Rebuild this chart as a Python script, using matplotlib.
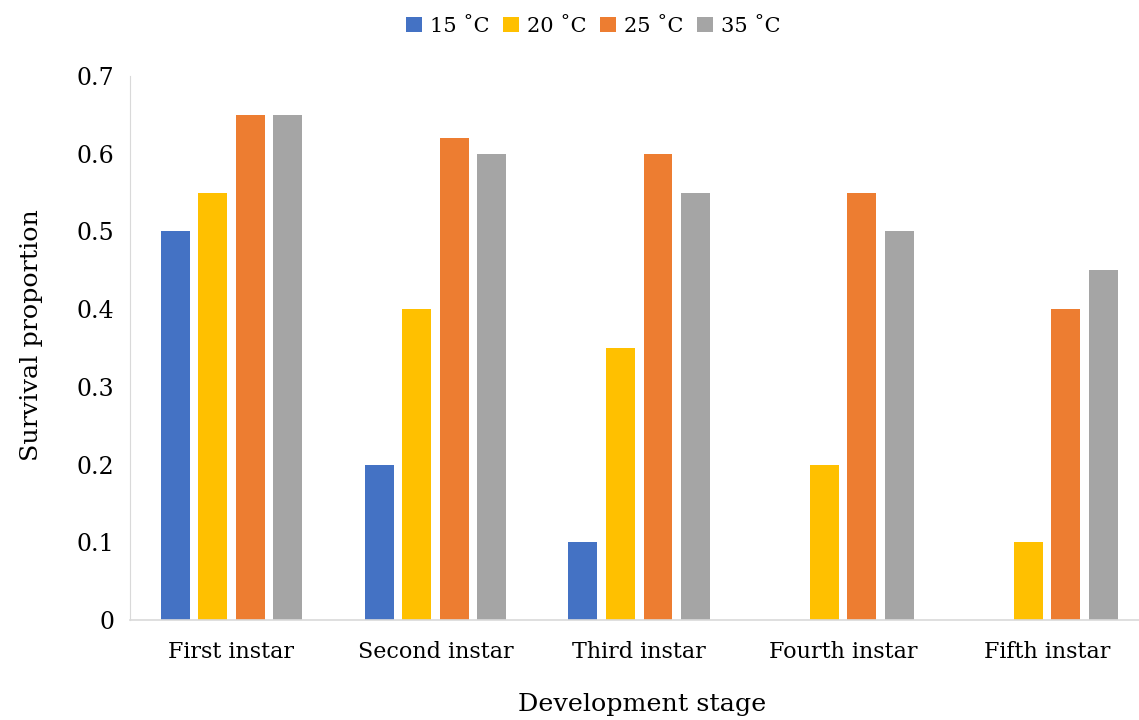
import matplotlib
matplotlib.use("Agg")
import matplotlib.pyplot as plt
import numpy as np

categories = ["First instar", "Second instar", "Third instar", "Fourth instar", "Fifth instar"]
series_names = ["15 ˚C", "20 ˚C", "25 ˚C", "35 ˚C"]
s15 = [0.5, 0.2, 0.1, 0.0, 0.0]
s20 = [0.55, 0.4, 0.35, 0.2, 0.1]
s25 = [0.65, 0.62, 0.6, 0.55, 0.4]
s35 = [0.65, 0.6, 0.55, 0.5, 0.45]
colors = ["#4472C4", "#FFC000", "#ED7D31", "#A5A5A5"]
yticks = [0, 0.1, 0.2, 0.3, 0.4, 0.5, 0.6, 0.7]
ytick_labels = ["0", "0.1", "0.2", "0.3", "0.4", "0.5", "0.6", "0.7"]

plt.rcParams['font.family'] = ['DejaVu Serif']
fig = plt.figure(figsize=(11.39, 7.2), dpi=100)
ax = fig.add_axes([129.5 / 1139, 100 / 720, 1019.5 / 1139, 544 / 720])

x = np.arange(len(categories))
bw = 0.142
step = 0.184
for i, (vals, name, c) in enumerate(zip([s15, s20, s25, s35], series_names, colors)):
    ax.bar(x + (i - 1.5) * step, vals, width=bw, color=c, label=name)

ax.set_xlim(-0.5, len(categories) - 0.5)
ax.set_ylim(0, 0.7)
ax.set_yticks(yticks)
ax.set_yticklabels(ytick_labels)
ax.set_xticks(x)
ax.set_xticklabels(categories)
ax.tick_params(axis='both', length=0, colors='#000000')
ax.tick_params(axis='x', labelsize=16, pad=15)
ax.tick_params(axis='y', labelsize=17, pad=11)
for s in ['top', 'right']:
    ax.spines[s].set_visible(False)
ax.spines['left'].set_color('#D9D9D9')
ax.spines['bottom'].set_color('#D9D9D9')
ax.spines['bottom'].set_linewidth(1.2)
ax.set_ylabel("Survival proportion", fontsize=18.3)
ax.set_xlabel("Development stage", fontsize=18.3)
ax.yaxis.set_label_coords(-0.085, 0.524)
ax.xaxis.set_label_coords(0.503, -0.134)
fig.legend(loc='upper center', bbox_to_anchor=(0.521, 1.003), ncol=4, frameon=False,
           fontsize=15, handlelength=0.75, handleheight=0.75, handletextpad=0.4, columnspacing=0.65)
fig.savefig("out.png", dpi=100)
